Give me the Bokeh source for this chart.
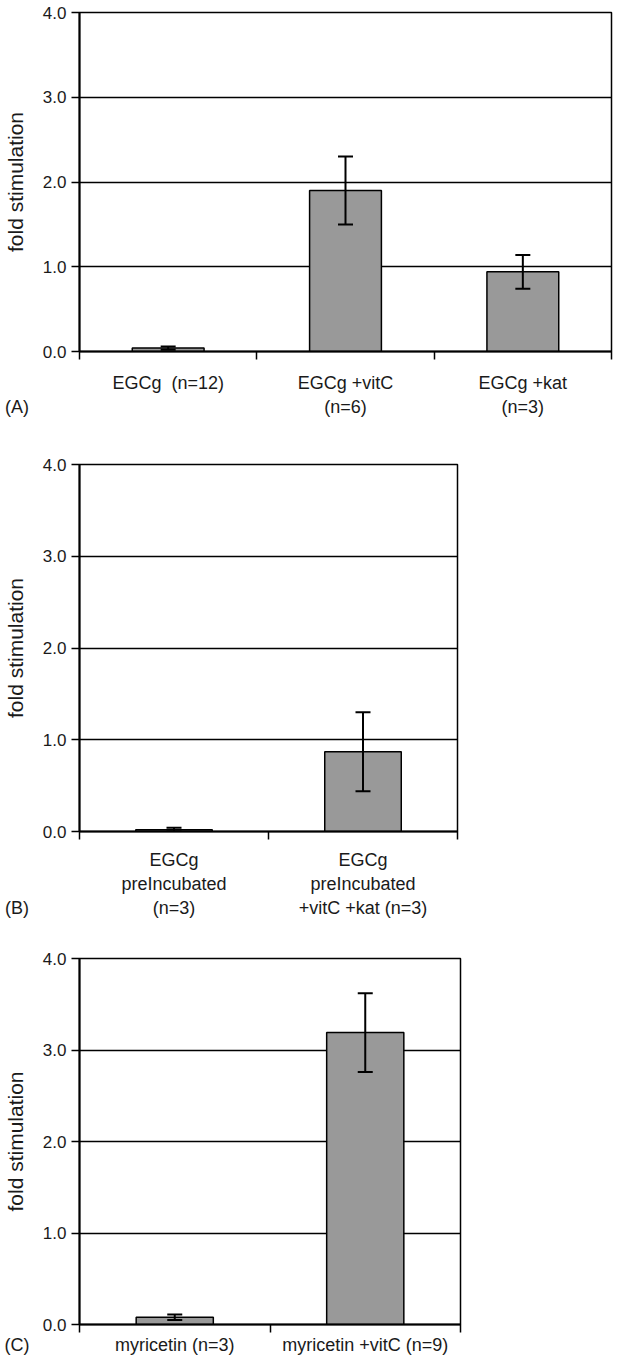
from bokeh.plotting import figure
from bokeh.models import (Range1d, FixedTicker, Whisker, TeeHead, ColumnDataSource,
                          PrintfTickFormatter)
from bokeh.layouts import column
from bokeh.embed import file_html
from bokeh.resources import INLINE

# ---------------- data ----------------
cats_a = ["EGCg\u00a0 (n=12)", "EGCg +vitC\n(n=6)", "EGCg +kat\n(n=3)"]
vals_a = [0.04, 1.90, 0.94]
errs_a = [0.02, 0.40, 0.20]

cats_b = ["EGCg\npreIncubated\n(n=3)", "EGCg\npreIncubated\n+vitC +kat (n=3)"]
vals_b = [0.02, 0.87]
errs_b = [0.02, 0.43]

cats_c = ["myricetin (n=3)", "myricetin +vitC (n=9)"]
vals_c = [0.08, 3.19]
errs_c = [0.03, 0.43]

y_ticks = [0, 1, 2, 3, 4]
y_label = "fold stimulation"
panel_labels = ["(A)", "(B)", "(C)"]

FONT = "Liberation Sans"
TXT = "#1a1a1a"
PAD = "\u00a0" * 25   # pushes the panel letter left of the y axis


def make_panel(cats, vals, errs, plabel, plabel_line, fw, fh, bt, bb, cat_standoff):
    n = len(cats)
    xs = [i + 0.5 for i in range(n)]
    p = figure(frame_width=fw, frame_height=fh, output_backend="svg", toolbar_location=None,
               x_range=Range1d(0, n), y_range=Range1d(0, 4),
               min_border_left=77, min_border_right=2, min_border_top=bt, min_border_bottom=bb)
    p.background_fill_color = "white"
    p.border_fill_color = "white"
    p.outline_line_color = "black"
    p.outline_line_width = 1.5
    p.outline_line_alpha = 1.0

    # grid
    p.xgrid.visible = False
    p.ygrid.ticker = FixedTicker(ticks=y_ticks)
    p.ygrid.grid_line_color = "black"
    p.ygrid.grid_line_width = 1.5

    # y axis
    ya = p.yaxis[0]
    ya.ticker = FixedTicker(ticks=y_ticks)
    ya.formatter = PrintfTickFormatter(format="%.1f")
    ya.major_tick_out = 8
    ya.major_tick_in = 0
    ya.major_tick_line_width = 1.5
    ya.minor_tick_line_color = None
    ya.axis_line_width = 2
    ya.major_label_text_font = FONT
    ya.major_label_text_font_size = "17px"
    ya.major_label_text_color = TXT
    ya.major_label_standoff = 5
    ya.axis_label = y_label
    ya.axis_label_text_font = FONT
    ya.axis_label_text_font_size = "21px"
    ya.axis_label_text_font_style = "normal"
    ya.axis_label_text_color = TXT
    ya.axis_label_standoff = 13

    # x axis: category labels at centers, ticks at category boundaries,
    # panel letter as the label of the left-edge tick
    xa = p.xaxis[0]
    xa.ticker = FixedTicker(ticks=[0.0] + xs, minor_ticks=list(range(n + 1)))
    overrides = {0.0: "\n" * plabel_line + plabel + PAD}
    overrides.update({x: c for x, c in zip(xs, cats)})
    xa.major_label_overrides = overrides
    xa.major_tick_out = 0
    xa.major_tick_in = 0
    xa.minor_tick_out = 8
    xa.minor_tick_in = 0
    xa.minor_tick_line_color = "black"
    xa.minor_tick_line_width = 1.5
    xa.axis_line_width = 2
    xa.major_label_text_font = FONT
    xa.major_label_text_font_size = "18px"
    xa.major_label_text_color = TXT
    xa.major_label_standoff = cat_standoff
    xa.major_label_orientation = "horizontal"

    # bars
    p.vbar(x=xs, top=vals, bottom=0, width=0.405, fill_color="#999999",
           line_color="black", line_width=1.5)

    # error bars
    src = ColumnDataSource(dict(x=xs,
                                upper=[v + e for v, e in zip(vals, errs)],
                                lower=[v - e for v, e in zip(vals, errs)]))
    w = Whisker(source=src, base="x", upper="upper", lower="lower",
                line_color="black", line_width=2, level="overlay",
                upper_head=TeeHead(size=15, line_width=2, line_color="black"),
                lower_head=TeeHead(size=15, line_width=2, line_color="black"))
    p.add_layout(w)
    return p


# frame sizes: A 85..617 x 20..359 ; B 85..463 x 472..839 ; C 85..466 x 966..1332
pA = make_panel(cats_a, vals_a, errs_a, panel_labels[0], 1, 532, 339, 12, 81, 13)
pB = make_panel(cats_b, vals_b, errs_b, panel_labels[1], 2, 378, 367, 32, 89, 10)
pC = make_panel(cats_c, vals_c, errs_c, panel_labels[2], 0, 381, 366, 38, 31, 2)

layout = column(pA, pB, pC)
open("out.html", "w").write(file_html(layout, INLINE))
